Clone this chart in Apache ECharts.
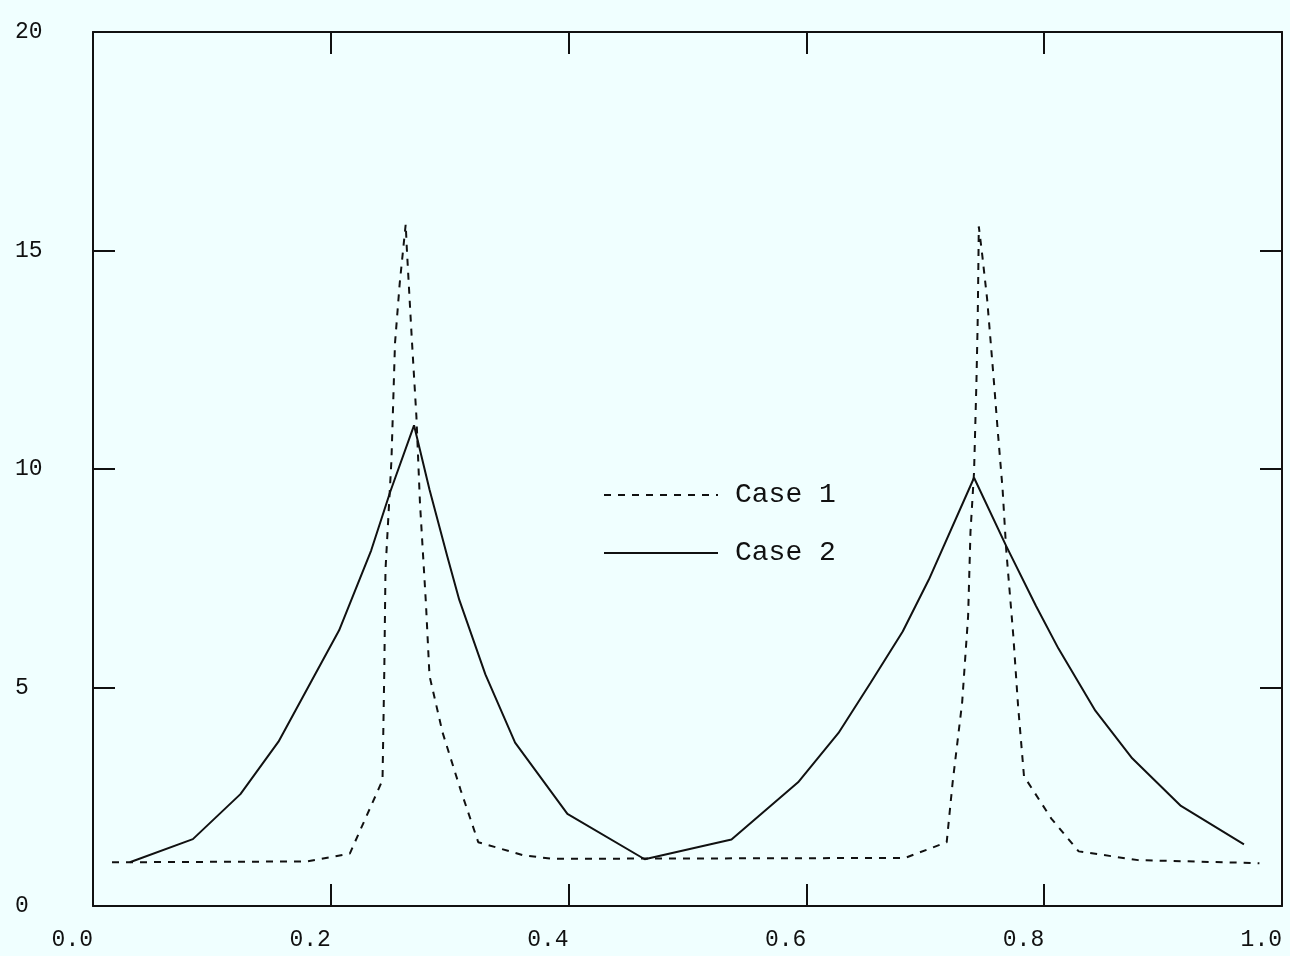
<!DOCTYPE html>
<html>
<head>
<meta charset="utf-8">
<script src="https://cdn.jsdelivr.net/npm/echarts@6/dist/echarts.min.js"></script>
<style>
  html, body { margin: 0; padding: 0; background: #f0ffff; }
  #chart { width: 1290px; height: 956px; }
</style>
</head>
<body>
<div id="chart"></div>
<script>
// x positions and values
const case1X = [0.016, 0.18, 0.216, 0.2435, 0.245, 0.246, 0.251, 0.254, 0.258, 0.263, 0.264, 0.268, 0.272, 0.275, 0.280, 0.283, 0.294, 0.309, 0.324, 0.362, 0.386, 0.683, 0.718, 0.723, 0.731, 0.736, 0.738, 0.741, 0.743, 0.744, 0.7445, 0.745, 0.748, 0.752, 0.755, 0.758, 0.761, 0.765, 0.768, 0.774, 0.778, 0.783, 0.806, 0.829, 0.879, 0.981]
const case1Y = [1.0, 1.02, 1.2, 2.88, 5.4, 7.69, 10.2, 12.88, 14.26, 15.6, 15.01, 13.04, 11.2, 9.22, 6.93, 5.27, 3.97, 2.67, 1.46, 1.16, 1.08, 1.1, 1.46, 2.83, 4.66, 6.63, 8.56, 9.93, 11.99, 13.28, 14.35, 15.55, 14.87, 13.89, 12.9, 11.9, 10.85, 9.54, 8.17, 6.19, 4.59, 2.97, 2.0, 1.25, 1.05, 0.98]

const case2X = [0.031, 0.084, 0.124, 0.156, 0.184, 0.207, 0.234, 0.250, 0.270, 0.283, 0.298, 0.308, 0.330, 0.355, 0.399, 0.464, 0.537, 0.593, 0.627, 0.654, 0.681, 0.703, 0.741, 0.768, 0.793, 0.812, 0.843, 0.874, 0.915, 0.968]
const case2Y = [1.0, 1.53, 2.56, 3.76, 5.16, 6.31, 8.14, 9.48, 11.0, 9.53, 8.0, 7.01, 5.30, 3.74, 2.11, 1.07, 1.52, 2.83, 3.96, 5.11, 6.28, 7.47, 9.8, 8.24, 6.87, 5.89, 4.47, 3.38, 2.29, 1.41]

const seriesNames = ['Case 1', 'Case 2']

const ink = '#111'
const font = 'Liberation Mono'

const chart = echarts.init(document.getElementById('chart'))

const zip = (xs, ys) => xs.map((x, i) => [x, ys[i]])

const tick = { show: true, inside: true, length: 22, lineStyle: { color: ink, width: 2 } }
const line = { show: true, onZero: false, lineStyle: { color: ink, width: 2 } }

chart.setOption({
  animation: false,
  backgroundColor: '#f0ffff',
  grid: { left: 93, right: 8, top: 32, bottom: 50 },
  legend: {
    orient: 'vertical',
    left: 598,
    top: 476,
    itemWidth: 114,
    itemHeight: 28,
    itemGap: 30,
    itemStyle: { opacity: 0 },
    textStyle: { color: ink, fontFamily: font, fontSize: 28, padding: [0, 0, 0, 12] },
    data: seriesNames,
  },
  xAxis: [
    {
      type: 'value', min: 0, max: 1, interval: 0.2,
      axisLine: line, axisTick: tick, splitLine: { show: false },
      axisLabel: {
        color: ink, fontFamily: font, fontSize: 23, align: 'right', margin: 22,
        formatter: v => v.toFixed(1),
      },
    },
    {
      type: 'value', position: 'top', min: 0, max: 1, interval: 0.2,
      axisLine: line, axisTick: tick, splitLine: { show: false }, axisLabel: { show: false },
    },
  ],
  yAxis: [
    {
      type: 'value', min: 0, max: 20, interval: 5,
      axisLine: line, axisTick: tick, splitLine: { show: false },
      axisLabel: { color: ink, fontFamily: font, fontSize: 23, align: 'left', margin: 78 },
    },
    {
      type: 'value', position: 'right', min: 0, max: 20, interval: 5,
      axisLine: line, axisTick: tick, splitLine: { show: false }, axisLabel: { show: false },
    },
  ],
  series: [
    {
      name: seriesNames[0],
      type: 'line',
      data: zip(case1X, case1Y),
      symbol: 'none',
      lineStyle: { color: ink, width: 2, type: [7, 7] },
      itemStyle: { color: ink },
    },
    {
      name: seriesNames[1],
      type: 'line',
      data: zip(case2X, case2Y),
      symbol: 'none',
      lineStyle: { color: ink, width: 2 },
      itemStyle: { color: ink },
    },
  ],
})
</script>
</body>
</html>
